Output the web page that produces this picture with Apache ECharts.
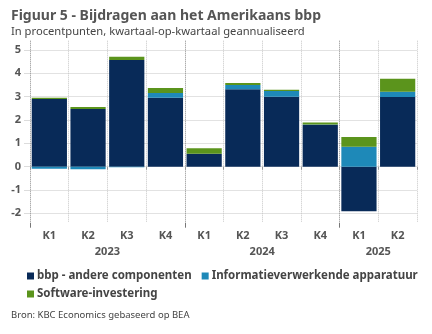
<!DOCTYPE html>
<html>
<head>
<meta charset="utf-8">
<script src="https://cdn.jsdelivr.net/npm/echarts@6/dist/echarts.min.js"></script>
<style>
  html, body { margin: 0; padding: 0; background: #fff; }
  #chart { width: 432px; height: 334px; }
</style>
</head>
<body>
<div id="chart"></div>
<script>
// Quarterly contributions to US GDP growth (percentage points, q/q annualised)
const quarters = ['K1', 'K2', 'K3', 'K4', 'K1', 'K2', 'K3', 'K4', 'K1', 'K2'];
const years = ['2023', '2024', '2025'];
const quartersPerYear = [4, 4, 2];

const seriesNames = ['bbp - andere componenten', 'Informatieverwerkende apparatuur', 'Software-investering'];
const otherComponents = [2.90, 2.47, 4.57, 2.96, 0.55, 3.32, 3.00, 1.80, -1.91, 2.99];
const infoEquipment   = [-0.09, -0.11, -0.02, 0.20, 0.00, 0.18, 0.24, 0.01, 0.86, 0.22];
const software        = [0.06, 0.09, 0.14, 0.21, 0.24, 0.09, 0.06, 0.08, 0.41, 0.56];

const yTicks = [-2, -1, 0, 1, 2, 3, 4, 5];

const FONT = '"Noto Sans", "Open Sans", sans-serif';
const NAVY = '#082a58', BLUE = '#1e89b8', GREEN = '#5b941c';

// centre of each year's block of quarters, and the block boundaries
const yearCentres = [];
const yearStarts = [];
let acc = 0;
quartersPerYear.forEach(n => { yearStarts.push(acc); yearCentres.push(acc + n / 2); acc += n; });

const chart = echarts.init(document.getElementById('chart'), null, { renderer: 'canvas' });

const barSeries = (name, data, color) => ({
  name, type: 'bar', stack: 'gdp', data,
  xAxisIndex: 0, yAxisIndex: 0,
  barCategoryGap: '9%',
  itemStyle: { color },
  emphasis: { disabled: true }
});

const legendBase = {
  left: 22, itemWidth: 7, itemHeight: 7, itemGap: 10, icon: 'rect',
  textStyle: { fontFamily: FONT, fontSize: 11.5, fontWeight: 'bold', color: '#444', padding: [0, 0, 0, -2] }
};

chart.setOption({
  animation: false,
  textStyle: { fontFamily: FONT },
  title: [
    {
      text: 'Figuur 5 - Bijdragen aan het Amerikaans bbp',
      subtext: 'In procentpunten, kwartaal-op-kwartaal geannualiseerd',
      left: 6, top: 4, itemGap: 3,
      textStyle: { fontFamily: FONT, fontSize: 14, fontWeight: 'bold', color: '#555' },
      subtextStyle: { fontFamily: FONT, fontSize: 11.2, color: '#444' }
    },
    {
      text: 'Bron: KBC Economics gebaseerd op BEA',
      left: 6, top: 305,
      textStyle: { fontFamily: FONT, fontSize: 9.5, fontWeight: 'normal', color: '#444' }
    }
  ],
  legend: [
    Object.assign({}, legendBase, { top: 265, data: seriesNames.slice(0, 2) }),
    Object.assign({}, legendBase, { top: 283, data: seriesNames.slice(2) })
  ],
  grid: [
    { left: 30, right: 15, top: 40.7, bottom: 111.3 },
    { left: 30, right: 15, top: 50, bottom: 120.7 }
  ],
  xAxis: [
    {
      type: 'category', gridIndex: 0, data: quarters,
      axisLine: { show: false },
      axisTick: { show: true, length: 3, lineStyle: { color: '#999' } },
      axisLabel: { margin: 8, fontFamily: FONT, fontSize: 11, fontWeight: 'bold', color: '#555' },
      splitLine: {
        show: true,
        lineStyle: { type: 'dotted', width: 1, color: ['#8a8a8a', '#c6c6c6', '#c6c6c6', '#c6c6c6'] }
      }
    },
    {
      type: 'value', gridIndex: 0, min: 0, max: quarters.length, position: 'bottom',
      axisLine: { show: false },
      splitLine: { show: false },
      axisTick: { show: true, length: 5, customValues: yearStarts, lineStyle: { color: '#777' } },
      axisLabel: {
        show: true, margin: 24, customValues: yearCentres,
        fontFamily: FONT, fontSize: 11, fontWeight: 'bold', color: '#555',
        formatter: v => years[yearCentres.indexOf(v)] || ''
      }
    },
    { type: 'value', gridIndex: 1, min: 0, max: 1, show: false }
  ],
  yAxis: [
    { type: 'value', gridIndex: 0, min: -2.4, max: 5.4, show: false, splitLine: { show: false } },
    {
      type: 'value', gridIndex: 1, min: yTicks[0], max: yTicks[yTicks.length - 1], interval: 1,
      axisLine: { show: false },
      axisTick: { show: true, length: 6, lineStyle: { color: '#dcdcdc' } },
      axisLabel: { margin: 9, fontFamily: FONT, fontSize: 11, fontWeight: 'bold', color: '#555' },
      splitLine: { show: true, lineStyle: { color: '#e2e2e2', width: 1 } }
    }
  ],
  series: [
    barSeries(seriesNames[0], otherComponents, NAVY),
    barSeries(seriesNames[1], infoEquipment, BLUE),
    barSeries(seriesNames[2], software, GREEN)
  ]
});
</script>
</body>
</html>
